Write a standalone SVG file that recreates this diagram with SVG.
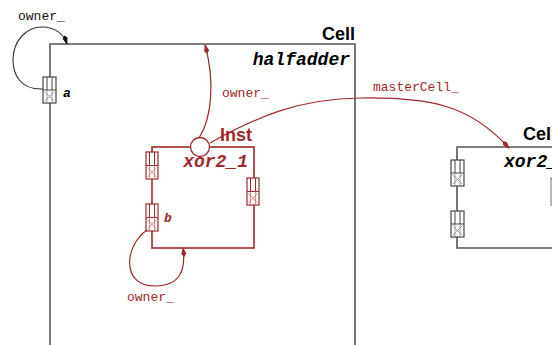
<svg xmlns="http://www.w3.org/2000/svg" width="552" height="345" viewBox="0 0 552 345">
<defs>
<style>
.cellbox{fill:none;stroke:#555;stroke-width:1.6}
.instbox{fill:none;stroke:#a0282a;stroke-width:1.6}
.bl{font-family:"Liberation Sans",Arial,sans-serif;font-weight:bold;font-size:18px}
.nm{font-family:"Liberation Mono","Courier New",monospace;font-weight:bold;font-style:italic;font-size:18px}
.lb{font-family:"Liberation Mono","Courier New",monospace;font-size:13px}
.pl{font-family:"Liberation Mono","Courier New",monospace;font-weight:bold;font-style:italic;font-size:13px}
.pg .o{fill:#fff;stroke:#444;stroke-width:1.2}
.pg .i{fill:none;stroke:#444;stroke-width:1}
.pg .x{fill:none;stroke:#888;stroke-width:0.8}
.pr .o{fill:#fff;stroke:#a0282a;stroke-width:1.2}
.pr .i{fill:none;stroke:#a0282a;stroke-width:1}
.pr .x{fill:none;stroke:#c87070;stroke-width:0.8}
.cb{fill:none;stroke:#333;stroke-width:1.1}
.cr{fill:none;stroke:#a0282a;stroke-width:1.2}
</style>
<marker id="ab" markerUnits="userSpaceOnUse" markerWidth="10" markerHeight="8" refX="9" refY="4" orient="auto">
<path d="M0,4 L3,1.5 L10,4 L3,6.5 Z" fill="#111"/>
</marker>
<marker id="ar" markerUnits="userSpaceOnUse" markerWidth="10" markerHeight="8" refX="9" refY="4" orient="auto">
<path d="M0,4 L3,1.5 L10,4 L3,6.5 Z" fill="#a0282a"/>
</marker>
<g id="portG" class="pg">
<rect class="o" x="0" y="0" width="13" height="26"/>
<line class="i" x1="0" y1="13" x2="13" y2="13"/>
<line class="i" x1="4" y1="0" x2="4" y2="13"/>
<line class="i" x1="9" y1="0" x2="9" y2="13"/>
<path class="x" d="M2,15 L11,24 M11,15 L2,24 M4,13 V26 M9,13 V26"/>
</g>
<g id="portR" class="pr">
<rect class="o" x="0" y="0" width="12" height="27"/>
<line class="i" x1="0" y1="13.5" x2="12" y2="13.5"/>
<line class="i" x1="3.5" y1="0" x2="3.5" y2="13.5"/>
<line class="i" x1="8.5" y1="0" x2="8.5" y2="13.5"/>
<path class="x" d="M1.5,15.5 L10.5,25 M10.5,15.5 L1.5,25 M3.5,13.5 V27 M8.5,13.5 V27"/>
</g>
</defs>
<rect width="552" height="345" fill="#fff"/>

<g id="cell-halfadder">
<polyline class="cellbox" points="50,352 50,44 355,44 355,352"/>
<text class="bl" x="355" y="40" text-anchor="end">Cell</text>
<text class="nm" x="350" y="65" text-anchor="end">halfadder</text>
</g>

<g id="port-a">
<use href="#portG" x="43" y="77"/>
<text class="pl" x="63" y="97">a</text>
</g>

<g id="cell-xor2">
<polyline class="cellbox" points="560,147 457,147 457,248 560,248"/>
<use href="#portG" x="451" y="160"/>
<use href="#portG" x="451" y="211"/>
<rect x="551" y="178" width="13" height="27" fill="#fff" stroke="#888" stroke-width="1.2"/>
<text class="bl" x="523" y="140">Cell</text>
<text class="nm" x="504" y="167">xor2_1</text>
</g>

<g id="inst-xor2_1">
<rect class="instbox" x="152" y="147" width="102" height="101"/>
<circle cx="200" cy="147" r="9.5" fill="#fff" stroke="#a0282a" stroke-width="1.3"/>
<text class="bl" x="220" y="141" fill="#a0282a">Inst</text>
<text class="nm" x="248" y="167" text-anchor="end" fill="#a0282a">xor2_1</text>
<use href="#portR" x="146" y="152"/>
<use href="#portR" x="146" y="204"/>
<use href="#portR" x="247" y="178"/>
<text class="pl" x="164" y="222" fill="#a0282a">b</text>
</g>

<g id="connectors">
<path class="cb" d="M43,89 C21,90 13,75 13,60 C13,40 27,27 42,27 C56,27 64,35 67,44" marker-end="url(#ab)"/>
<text class="lb" x="18" y="20" fill="#111">owner_</text>
<path class="cr" d="M199,138 C212,118 215,80 205,45" marker-end="url(#ar)"/>
<text class="lb" x="222" y="97" fill="#a0282a">owner_</text>
<path class="cr" d="M210,143 C260,115 300,99 360,98 C430,97 470,105 509,148" marker-end="url(#ar)"/>
<text class="lb" x="373" y="91" fill="#a0282a">masterCell_</text>
<path class="cr" d="M147,230 C125,245 120,286 155,286 C180,286 186,270 183,248" marker-end="url(#ar)"/>
<text class="lb" x="127" y="301" fill="#a0282a">owner_</text>
</g>
</svg>
